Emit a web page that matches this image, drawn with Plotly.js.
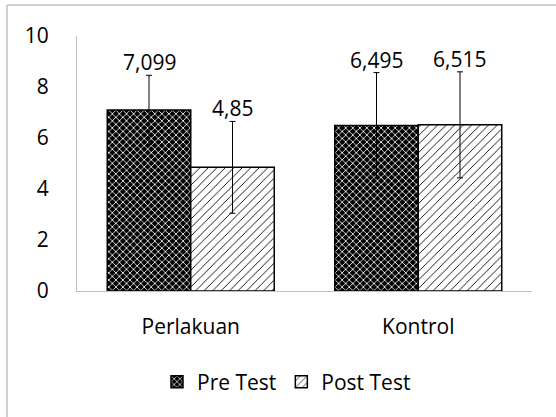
<!DOCTYPE html>
<html>
<head>
<meta charset="utf-8">
<script src="https://cdn.plot.ly/plotly-3.0.1.min.js"></script>
<style>html,body{margin:0;padding:0;background:#fff;}#chart{width:556px;height:417px;}</style>
</head>
<body>
<div id="chart"></div>
<script>
var categories = ["Perlakuan", "Kontrol"];
var seriesNames = ["Pre Test", "Post Test"];
var preValues = [7.099, 6.495];
var postValues = [4.85, 6.515];
var preErrors = [1.36, 2.07];
var postErrors = [1.8, 2.08];
var yTicks = [0, 2, 4, 6, 8, 10];

var FONT = "Open Sans, Noto Sans, sans-serif";

function fmt(v) { return String(v).replace('.', ','); }

var tracePre = {
  type: 'bar', name: seriesNames[0], x: categories, y: preValues,
  error_y: {type: 'data', array: preErrors, visible: true, color: '#000', thickness: 1, width: 3},
  marker: {color: '#000', line: {color: '#000', width: 1.5},
    pattern: {shape: 'x', fgcolor: '#ffffff', bgcolor: '#000000', size: 5, solidity: 0.3}},
  hoverinfo: 'none'
};
var tracePost = {
  type: 'bar', name: seriesNames[1], x: categories, y: postValues,
  error_y: {type: 'data', array: postErrors, visible: true, color: '#000', thickness: 1, width: 3},
  marker: {color: '#fff', line: {color: '#000', width: 1.5},
    pattern: {shape: '/', fgcolor: '#000000', bgcolor: '#ffffff', size: 6, solidity: 0.15}},
  hoverinfo: 'none'
};

var L = 77, R = 24, T = 36, B = 126;
var plotW = 556 - L - R;
var bargap = 0.266;
var barW = plotW / categories.length * (1 - bargap) / 2;

var annotations = [];
categories.forEach(function (c, i) {
  annotations.push({x: c, y: preValues[i] + preErrors[i], xref: 'x', yref: 'y', text: fmt(preValues[i]),
    showarrow: false, xshift: -barW / 2, yanchor: 'bottom', yshift: -3, font: {family: FONT, size: 21, color: '#000'}});
  annotations.push({x: c, y: postValues[i] + postErrors[i], xref: 'x', yref: 'y', text: fmt(postValues[i]),
    showarrow: false, xshift: barW / 2, yanchor: 'bottom', yshift: -3, font: {family: FONT, size: 21, color: '#000'}});
});

var plotH = 417 - T - B;
function px2paperX(px) { return (px - L) / plotW; }
function px2paperY(py) { return (417 - B - py) / plotH; }

var layout = {
  width: 556, height: 417,
  margin: {l: L, r: R, t: T, b: B, pad: 0},
  paper_bgcolor: '#fff', plot_bgcolor: '#fff',
  font: {family: FONT, size: 21, color: '#000'},
  barmode: 'group', bargap: bargap, bargroupgap: 0,
  showlegend: true,
  legend: {orientation: 'h', x: px2paperX(157), xanchor: 'left', y: px2paperY(382), yanchor: 'middle',
    font: {family: FONT, size: 21, color: '#000'}, bgcolor: 'rgba(0,0,0,0)', traceorder: 'normal'},
  xaxis: {type: 'category', showline: true, linecolor: '#bfbfbf', linewidth: 1, showgrid: false, zeroline: false,
    ticks: '', ticklabelstandoff: 17, tickfont: {family: FONT, size: 21, color: '#000'}, fixedrange: true},
  yaxis: {range: [0, 10], tickvals: yTicks, ticktext: yTicks.map(String), showline: true, linecolor: '#bfbfbf', linewidth: 1,
    showgrid: false, zeroline: false, ticks: '', ticklabelstandoff: 23, tickfont: {family: FONT, size: 21, color: '#000'}, fixedrange: true},
  annotations: annotations,
  shapes: [
    {type: 'line', xref: 'paper', yref: 'paper', x0: px2paperX(7), x1: px2paperX(7), y0: px2paperY(5), y1: px2paperY(430),
      line: {color: '#bfbfbf', width: 1.5}},
    {type: 'line', xref: 'paper', yref: 'paper', x0: px2paperX(7), x1: px2paperX(570), y0: px2paperY(5), y1: px2paperY(5),
      line: {color: '#bfbfbf', width: 1.5}}
  ]
};

Plotly.newPlot('chart', [tracePre, tracePost], layout, {displayModeBar: false, staticPlot: true});
</script>
</body>
</html>
